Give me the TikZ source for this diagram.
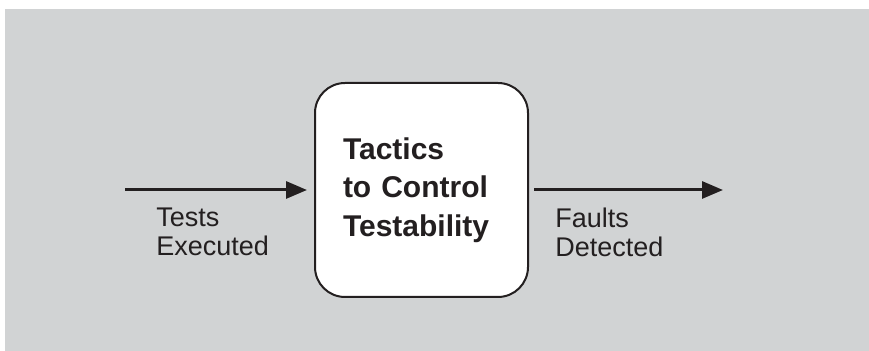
\documentclass[tikz,border=0pt]{standalone}
\usepackage{fontspec}
\setmainfont{Liberation Sans}
\usetikzlibrary{arrows.meta, positioning}
\definecolor{bggray}{HTML}{D1D3D4}
\definecolor{inkblack}{HTML}{231F20}
\tikzset{
    tacticbox/.style={draw=inkblack, line width=1pt, rounded corners=15pt, fill=white, minimum width=106.5pt, minimum height=107pt, text width=78.5pt, inner xsep=14pt, align=left, font=\fontsize{15pt}{19.25pt}\selectfont\bfseries, text=inkblack},
    flowarrow/.style={draw=inkblack, line width=1.5pt, -{Triangle[length=10.5pt, width=8.5pt]}},
    flowlabel/.style={anchor=north west, inner sep=0pt, align=left, font=\fontsize{13.5pt}{14.5pt}\selectfont, text=inkblack}
}

\begin{document}
\begin{tikzpicture}[x=0.5pt, y=-0.5pt]
    \useasboundingbox (0,0) rectangle (869,351);
    \fill[bggray] (5,9) rectangle (869,351);
    \node[tacticbox] (tactics) at (421.5,190) {Tactics\\to Control\\Testability};
    \coordinate (inflow) at (125,190);
    \coordinate (outflow) at (723,190);
    \draw[flowarrow, shorten >=3.5pt] (inflow) -- (tactics.west);
    \draw[flowarrow, shorten <=2.5pt] (tactics.east) -- (outflow);
    \node[flowlabel] (tests) at (156,207.5) {Tests\\Executed};
    \node[flowlabel] (faults) at (555,207.5) {Faults\\Detected};
\end{tikzpicture}
\end{document}
